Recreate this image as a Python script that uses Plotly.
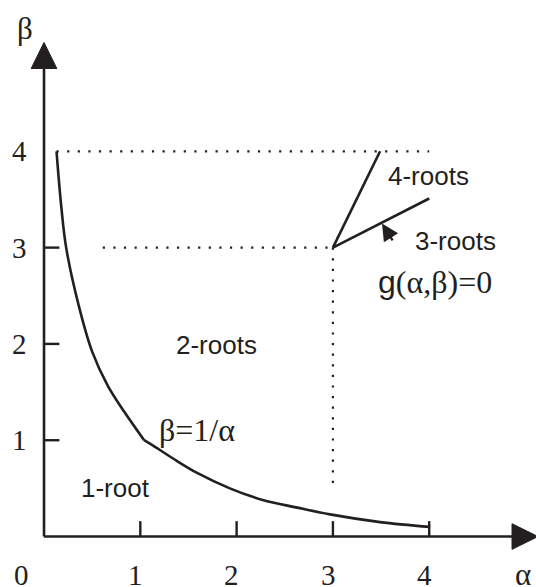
import plotly.graph_objects as go

# Boundary curve beta = 1/alpha (schematic): steep branch down to the kink near (1, 1) ...
left_alpha = [0.13, 0.18, 0.23, 0.36, 0.50, 0.66, 0.83, 1.04]
left_beta = [4.0, 3.42, 3.0, 2.4, 1.92, 1.57, 1.30, 1.0]
# ... and the flat branch out to alpha = 4
right_alpha = [1.04, 1.17, 1.34, 1.59, 1.93, 2.27, 2.63, 2.97, 3.49, 4.01]
right_beta = [1.0, 0.92, 0.81, 0.66, 0.50, 0.38, 0.30, 0.23, 0.15, 0.10]

# Boundaries g(alpha, beta) = 0 starting at the cusp (3, 3)
four_root_alpha = [3.0, 3.49]
four_root_beta = [3.0, 4.0]
three_root_alpha = [3.0, 4.0]
three_root_beta = [3.0, 3.51]

# Dotted guide lines
guide_top_alpha = [0.13, 4.0]
guide_top_beta = [4.0, 4.0]
guide_mid_alpha = [0.61, 3.0]
guide_mid_beta = [3.0, 3.0]
guide_vert_alpha = [3.0, 3.0]
guide_vert_beta = [3.0, 0.5]

# Ticks and tick labels
x_ticks = [1, 2, 3, 4]
y_ticks = [1, 2, 3]
x_tick_labels = ["1", "2", "3", "4"]
y_tick_label_vals = [1, 2, 3, 4]
y_tick_labels = ["1", "2", "3", "4"]

SANS = "Liberation Sans"
SERIF = "Liberation Serif"

# Region labels: (text, alpha, beta)
region_labels = [
    ("4-roots", 3.99, 3.74),
    ("3-roots", 4.27, 3.07),
    ("2-roots", 1.79, 1.99),
    ("1-root", 0.74, 0.50),
]

INK = "#231f20"
fig = go.Figure()

def add_line(xs, ys, width=2.6, dash=None, shape="linear"):
    fig.add_trace(go.Scatter(
        x=xs, y=ys, mode="lines", hoverinfo="skip", showlegend=False,
        line=dict(color=INK, width=width, dash=dash, shape=shape,
                  smoothing=1.0 if shape == "spline" else None),
        cliponaxis=False))

add_line(left_alpha, left_beta, shape="spline")
add_line(right_alpha, right_beta, shape="spline")
add_line(four_root_alpha, four_root_beta)
add_line(three_root_alpha, three_root_beta)
for xs, ys in [(guide_top_alpha, guide_top_beta), (guide_mid_alpha, guide_mid_beta),
               (guide_vert_alpha, guide_vert_beta)]:
    add_line(xs, ys, width=2.2, dash="2.2px,8.4px")

shapes = []
# Coordinate axes with arrowheads
arrow_base, arrow_tip, arrow_half = 4.86, 5.13, 0.133
shapes.append(dict(type="line", x0=0, y0=0, x1=arrow_base, y1=0,
                   line=dict(color=INK, width=2.6)))
shapes.append(dict(type="line", x0=0, y0=0, x1=0, y1=arrow_base,
                   line=dict(color=INK, width=2.6)))
shapes.append(dict(type="path",
                   path=f"M {arrow_base},{-arrow_half} L {arrow_tip},0 L {arrow_base},{arrow_half} Z",
                   fillcolor=INK, line=dict(color=INK, width=1)))
shapes.append(dict(type="path",
                   path=f"M {-arrow_half},{arrow_base} L 0,{arrow_tip} L {arrow_half},{arrow_base} Z",
                   fillcolor=INK, line=dict(color=INK, width=1)))
tick_len = 0.16
for t in x_ticks:
    shapes.append(dict(type="line", x0=t, y0=0, x1=t, y1=tick_len,
                       line=dict(color=INK, width=2.4)))
for t in y_ticks:
    shapes.append(dict(type="line", x0=0, y0=t, x1=tick_len, y1=t,
                       line=dict(color=INK, width=2.4)))

annotations = []
def add_text(text, x, y, family, size):
    annotations.append(dict(text=text, x=x, y=y, xref="x", yref="y", showarrow=False,
                            xanchor="center", yanchor="middle", borderpad=0,
                            font=dict(family=family, size=size, color=INK)))

for t, lab in zip(x_ticks, x_tick_labels):
    add_text(lab, t - 0.05, -0.40, SERIF, 29)
add_text("0", -0.23, -0.40, SERIF, 29)
for t, lab in zip(y_tick_label_vals, y_tick_labels):
    add_text(lab, -0.25, t, SERIF, 29)
add_text("α", 4.97, -0.39, SERIF, 31)
add_text("β", -0.20, 5.27, SERIF, 31)

for text, x, y in region_labels:
    add_text(text, x, y, SANS, 26)
add_text("β=1/α", 1.59, 1.11, SERIF, 32)
add_text(f'<span style="font-family:{SANS}">g</span>(α,β)=0', 4.06, 2.64, SERIF, 32)

# Pointer from the "3-roots" label to its boundary
annotations.append(dict(x=3.51, y=3.25, ax=3.63, ay=3.06, xref="x", yref="y",
                        axref="x", ayref="y", text="", showarrow=True,
                        arrowhead=2, arrowsize=1.4, arrowwidth=2.4, arrowcolor=INK))

fig.update_layout(
    width=536, height=587, margin=dict(l=0, r=0, t=0, b=0),
    paper_bgcolor="white", plot_bgcolor="white",
    xaxis=dict(range=[-0.457, 5.109], visible=False, fixedrange=True),
    yaxis=dict(range=[-0.524, 5.571], visible=False, fixedrange=True),
    shapes=shapes, annotations=annotations, showlegend=False,
)

fig.write_html("out.html", config={"displayModeBar": False})
